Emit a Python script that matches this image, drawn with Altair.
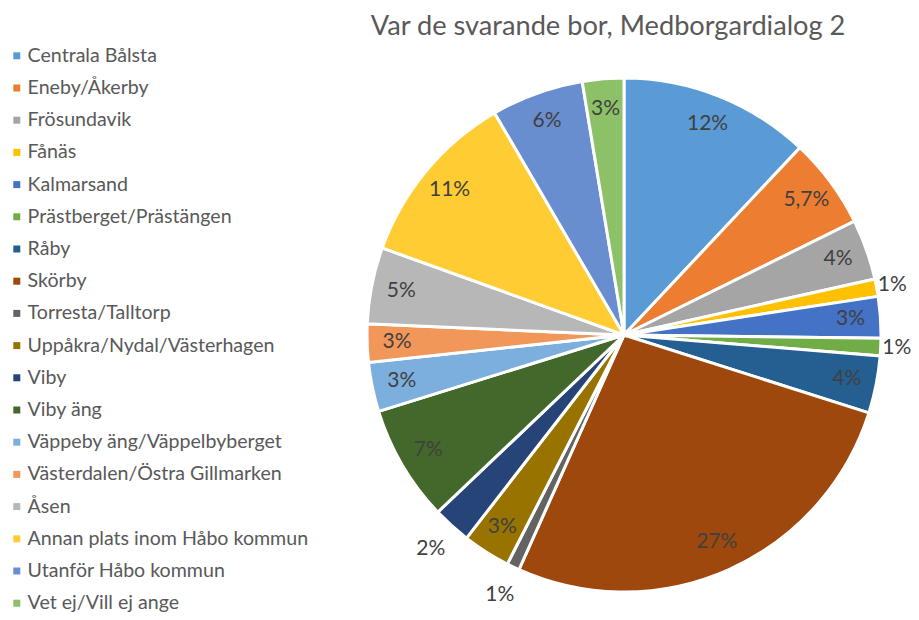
import altair as alt
import pandas as pd

TITLE = "Var de svarande bor, Medborgardialog 2"

CATEGORIES = [
    "Centrala Bålsta", "Eneby/Åkerby", "Frösundavik", "Fånäs", "Kalmarsand",
    "Prästberget/Prästängen", "Råby", "Skörby", "Torresta/Talltorp",
    "Uppåkra/Nydal/Västerhagen", "Viby", "Viby äng",
    "Väppeby äng/Väppelbyberget", "Västerdalen/Östra Gillmarken", "Åsen",
    "Annan plats inom Håbo kommun", "Utanför Håbo kommun", "Vet ej/Vill ej ange",
]
VALUES = [12.0, 5.7, 3.8, 1.1, 2.6, 1.1, 3.6, 26.8, 0.8, 3.0, 2.4, 7.3,
          3.1, 2.4, 4.8, 11.1, 5.8, 2.6]
LABELS = ["12%", "5,7%", "4%", "1%", "3%", "1%", "4%", "27%", "1%", "3%",
          "2%", "7%", "3%", "3%", "5%", "11%", "6%", "3%"]
COLORS = ["#5B9BD5", "#ED7D31", "#A5A5A5", "#FFC000", "#4472C4", "#70AD47",
          "#255E91", "#9E480E", "#636363", "#997300", "#264478", "#43682B",
          "#7CAFDD", "#F1975A", "#B7B7B7", "#FFCD33", "#698ED0", "#8CC168"]
OUTSIDE_RIGHT = ["Fånäs", "Prästberget/Prästängen"]
OUTSIDE_LEFT = ["Torresta/Talltorp", "Viby"]
OUTSIDE = OUTSIDE_RIGHT + OUTSIDE_LEFT

df = pd.DataFrame({
    "cat": CATEGORIES,
    "value": VALUES,
    "label": LABELS,
    "idx": list(range(len(CATEGORIES))),
})
df["lab_in"] = [("" if c in OUTSIDE else l) for c, l in zip(CATEGORIES, LABELS)]
df["lab_r"] = [(l if c in OUTSIDE_RIGHT else "") for c, l in zip(CATEGORIES, LABELS)]
df["lab_l"] = [(l if c in OUTSIDE_LEFT else "") for c, l in zip(CATEGORIES, LABELS)]

CX, CY = 616, 327
FONT = "Lato"

base = alt.Chart(df).encode(
    theta=alt.Theta("value:Q", stack=True),
    order=alt.Order("idx:Q", sort="ascending"),
)

arcs = base.mark_arc(radius=257, stroke="white", strokeWidth=3).encode(
    x=alt.value(CX), y=alt.value(CY),
    color=alt.Color(
        "cat:N",
        scale=alt.Scale(domain=CATEGORIES, range=COLORS),
        sort=CATEGORIES,
        legend=alt.Legend(title=None),
    ),
)

def labels(field, r):
    return base.mark_text(radius=r, font=FONT, fontSize=21, color="#404040").encode(
        x=alt.value(CX), y=alt.value(CY), text=f"{field}:N"
    )

text_in = labels("lab_in", 227)
text_r = labels("lab_r", 273)
text_l = labels("lab_l", 288)

title = alt.Chart(pd.DataFrame({"t": [TITLE]})).mark_text(
    font=FONT, fontSize=27.2, color="#595959", align="center", baseline="alphabetic"
).encode(x=alt.value(600), y=alt.value(27), text="t:N")

chart = alt.layer(arcs, text_in, text_r, text_l, title).properties(
    width=903, height=604, padding=0, autosize="none"
).configure_view(stroke=None).configure_legend(
    orient="none", legendX=-1, legendY=38, symbolType="square", symbolSize=49,
    symbolStrokeWidth=0, labelFont=FONT, labelFontSize=19.6, labelColor="#595959",
    labelOffset=1, rowPadding=11.2, labelLimit=400, padding=0,
)

chart.save("out.html", embed_options={"renderer": "svg", "actions": False})
